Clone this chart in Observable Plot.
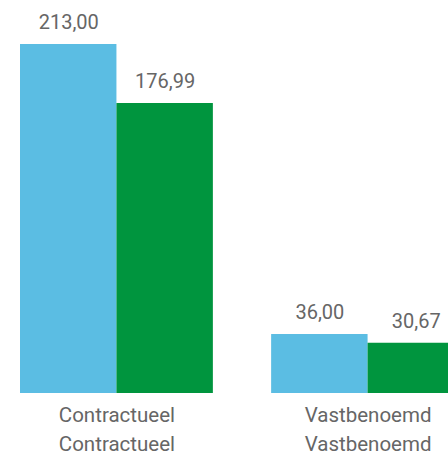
<!DOCTYPE html>
<html>
<head>
<meta charset="utf-8">
<script src="https://cdn.jsdelivr.net/npm/d3@7"></script>
<script src="https://cdn.jsdelivr.net/npm/@observablehq/plot@0.6"></script>
<style>
  html, body { margin: 0; padding: 0; background: #fff; }
  #wrap { width: 448px; height: 457px; overflow: hidden; }
</style>
</head>
<body>
<div id="wrap"></div>
<script>
const categories = ["Contractueel", "Vastbenoemd"];
const series = ["Aantal", "VTE"];
const aantal = [213.00, 36.00];
const vte = [176.99, 30.67];
const colors = ["#5bbde3", "#00953e"];

const data = [];
categories.forEach((c, i) => {
  data.push({category: c, series: series[0], value: aantal[i]});
  data.push({category: c, series: series[1], value: vte[i]});
});

const fmt = v => v.toFixed(2).replace(".", ",");

const chart = Plot.plot({
  width: 464,
  height: 457,
  marginLeft: 20,
  marginRight: 0,
  marginTop: 44,
  marginBottom: 64,
  style: {fontFamily: "Roboto, sans-serif", maxWidth: "none", background: "#fff"},
  fx: {domain: categories, paddingInner: 0.232, paddingOuter: 0, round: false, label: null},
  x: {domain: series, padding: 0, round: false, axis: null},
  y: {axis: null},
  color: {domain: series, range: colors},
  marks: [
    Plot.barY(data, {fx: "category", x: "series", y: "value", fill: "series"}),
    Plot.text(data, {fx: "category", x: "series", y: "value", text: d => fmt(d.value),
      dy: -22, fontSize: 20, fill: "#666"}),
    Plot.axisFx({anchor: "bottom", tickSize: 0, tickPadding: 7, fontSize: 20.5, fill: "#666",
      label: null, tickFormat: d => d + "\n" + d, lineHeight: 1.45})
  ]
});
document.getElementById("wrap").appendChild(chart);
</script>
</body>
</html>
